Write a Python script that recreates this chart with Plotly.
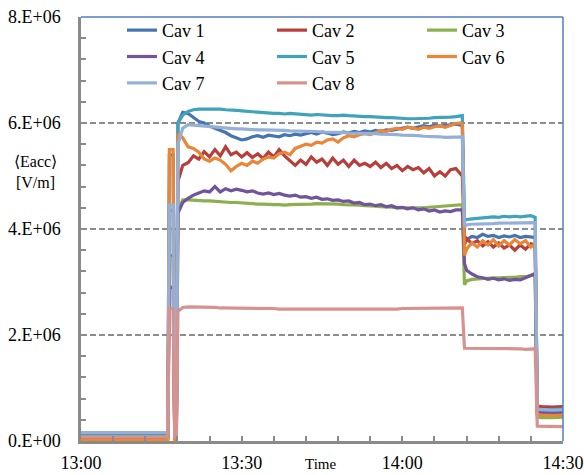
import pandas as pd
import plotly.graph_objects as go

# ---- time samples (minutes after 13:00) ----
t_pre = [0, 8, 16.2]
t_l1 = [16.5, 17.2]
t_trip = [17.5, 17.8]
t_flat = [18.1] + list(range(19, 72)) + [71.2]
t_mid = [71.6] + list(range(72, 85)) + [84.8]
t_low = [85.2, 86, 88, 90]

names = ["Cav 1", "Cav 2", "Cav 3", "Cav 4", "Cav 5", "Cav 6", "Cav 7", "Cav 8"]
colors = ["#4474B2", "#B63F3C", "#8CB04E", "#71549B", "#3FA3BC", "#E98638", "#94B0D8", "#D79290"]

# values in MV/m
base = [0.10, 0.08, 0.05, 0.06, 0.12, 0.02, 0.16, 0.08]
level1 = [5.4, 3.5, 4.0, 2.9, 4.35, 5.5, 4.45, 2.5]

cav1_flat = [6.0,
    6.2, 6.18, 6.1, 6.03, 6.0, 5.94, 5.9, 5.86, 5.82, 5.76,
    5.72, 5.68, 5.7, 5.74, 5.76, 5.73, 5.77, 5.76, 5.74, 5.78,
    5.76, 5.79, 5.77, 5.8, 5.82, 5.79, 5.83, 5.81, 5.78, 5.8,
    5.83, 5.81, 5.84, 5.82, 5.85, 5.83, 5.86, 5.84, 5.87, 5.86,
    5.88, 5.9, 5.92, 5.9, 5.93, 5.95, 5.93, 5.96, 5.94, 5.95,
    5.97, 5.98, 5.96,
    5.95]
cav2_flat = [4.9,
    5.2, 5.25, 5.38, 5.32, 5.46, 5.36, 5.5, 5.38, 5.55, 5.4,
    5.45, 5.36, 5.44, 5.35, 5.42, 5.33, 5.45, 5.36, 5.5, 5.38,
    5.28, 5.2, 5.3, 5.22, 5.36, 5.26, 5.32, 5.2, 5.34, 5.22,
    5.3, 5.18, 5.3, 5.2, 5.24, 5.18, 5.26, 5.16, 5.24, 5.14,
    5.2, 5.1, 5.18, 5.12, 5.16, 5.06, 5.14, 5.0, 5.08, 5.0,
    5.12, 5.14, 5.02,
    5.05]
cav3_flat = [4.35,
    4.55, 4.55, 4.54, 4.54, 4.53, 4.53, 4.52, 4.52, 4.51, 4.5,
    4.5, 4.49, 4.48, 4.48, 4.47, 4.47, 4.46, 4.46, 4.46, 4.45,
    4.46, 4.46, 4.47, 4.47, 4.47, 4.48, 4.48, 4.48, 4.47, 4.47,
    4.46, 4.46, 4.45, 4.45, 4.44, 4.44, 4.43, 4.42, 4.42, 4.41,
    4.4, 4.4, 4.39, 4.39, 4.4, 4.4, 4.41, 4.42, 4.42, 4.43,
    4.44, 4.45, 4.46,
    4.46]
cav4_flat = [4.3,
    4.5, 4.58, 4.64, 4.68, 4.72, 4.7, 4.8, 4.7, 4.76, 4.72,
    4.75, 4.73, 4.7, 4.72, 4.68, 4.66, 4.68, 4.65, 4.67, 4.64,
    4.62, 4.64, 4.6, 4.61, 4.58, 4.6, 4.56, 4.57, 4.54, 4.55,
    4.52, 4.53, 4.49, 4.5, 4.46, 4.47, 4.44, 4.46, 4.42, 4.44,
    4.4, 4.41, 4.38, 4.4, 4.36, 4.38, 4.34, 4.36, 4.32, 4.34,
    4.33, 4.36, 4.37,
    4.36]
cav5_flat = [6.0,
    6.15, 6.22, 6.25, 6.26, 6.26, 6.27, 6.26, 6.26, 6.25, 6.25,
    6.24, 6.23, 6.22, 6.21, 6.2, 6.19, 6.19, 6.18, 6.18, 6.17,
    6.18, 6.17, 6.16, 6.16, 6.15, 6.16, 6.15, 6.15, 6.14, 6.14,
    6.15, 6.14, 6.13, 6.13, 6.12, 6.12, 6.11, 6.11, 6.1, 6.1,
    6.09, 6.09, 6.08, 6.08, 6.08, 6.09, 6.09, 6.1, 6.1, 6.11,
    6.11, 6.12, 6.14,
    6.14]
cav6_flat = [5.8,
    5.72, 5.55, 5.52, 5.45, 5.32, 5.28, 5.34, 5.3, 5.22, 5.1,
    5.18, 5.24, 5.2, 5.28, 5.24, 5.32, 5.36, 5.34, 5.42, 5.45,
    5.4, 5.52, 5.56, 5.6, 5.58, 5.64, 5.62, 5.68, 5.7, 5.64,
    5.72, 5.76, 5.74, 5.78, 5.8, 5.78, 5.82, 5.86, 5.84, 5.88,
    5.9, 5.88, 5.92, 5.9, 5.88, 5.92, 5.9, 5.93, 5.95, 5.92,
    5.96, 5.99, 6.0,
    5.98]
cav7_flat = [5.6,
    5.9, 5.97, 5.96, 5.95, 5.94, 5.93, 5.92, 5.91, 5.9, 5.9,
    5.89, 5.89, 5.88, 5.88, 5.87, 5.87, 5.87, 5.86, 5.86, 5.86,
    5.85, 5.85, 5.85, 5.84, 5.84, 5.84, 5.83, 5.83, 5.83, 5.82,
    5.82, 5.81, 5.81, 5.81, 5.8, 5.8, 5.8, 5.79, 5.79, 5.78,
    5.78, 5.77, 5.77, 5.76, 5.76, 5.75, 5.75, 5.74, 5.74, 5.73,
    5.73, 5.73, 5.74,
    5.74]
cav8_flat = [2.45,
    2.52, 2.53, 2.53, 2.52, 2.52, 2.52, 2.52, 2.51, 2.51, 2.51,
    2.51, 2.5, 2.5, 2.5, 2.5, 2.5, 2.5, 2.5, 2.49, 2.49,
    2.49, 2.49, 2.49, 2.49, 2.48, 2.48, 2.48, 2.48, 2.48, 2.48,
    2.48, 2.49, 2.49, 2.49, 2.49, 2.49, 2.49, 2.49, 2.49, 2.49,
    2.49, 2.5, 2.5, 2.5, 2.5, 2.5, 2.5, 2.5, 2.5, 2.5,
    2.51, 2.51, 2.51,
    2.51]

cav1_mid = [3.75, 3.8, 3.86, 3.84, 3.9, 3.86, 3.88, 3.84, 3.87, 3.85, 3.88, 3.84, 3.86, 3.85, 3.84]
cav2_mid = [3.7, 3.82, 3.72, 3.78, 3.68, 3.76, 3.66, 3.74, 3.64, 3.7, 3.6, 3.7, 3.62, 3.72, 3.7]
cav3_mid = [2.95, 3.02, 3.05, 3.06, 3.07, 3.07, 3.08, 3.08, 3.08, 3.09, 3.09, 3.1, 3.1, 3.12, 3.14]
cav4_mid = [3.35, 3.22, 3.15, 3.1, 3.08, 3.05, 3.07, 3.04, 3.06, 3.03, 3.05, 3.04, 3.08, 3.12, 3.16]
cav5_mid = [4.15, 4.18, 4.19, 4.2, 4.21, 4.22, 4.23, 4.22, 4.24, 4.23, 4.24, 4.23, 4.24, 4.25, 4.22]
cav6_mid = [3.5, 3.62, 3.74, 3.66, 3.78, 3.7, 3.8, 3.68, 3.78, 3.7, 3.8, 3.72, 3.78, 3.66, 3.72]
cav7_mid = [4.05, 4.08, 4.09, 4.09, 4.1, 4.1, 4.1, 4.11, 4.11, 4.11, 4.12, 4.12, 4.12, 4.12, 4.12]
cav8_mid = [1.75, 1.75, 1.75, 1.74, 1.75, 1.74, 1.74, 1.74, 1.75, 1.74, 1.74, 1.74, 1.73, 1.74, 1.74]

cav1_low = [0.56, 0.56, 0.55, 0.56]
cav2_low = [0.66, 0.65, 0.64, 0.65]
cav3_low = [0.45, 0.44, 0.44, 0.45]
cav4_low = [0.53, 0.52, 0.52, 0.53]
cav5_low = [0.60, 0.59, 0.59, 0.60]
cav6_low = [0.50, 0.49, 0.48, 0.49]
cav7_low = [0.60, 0.59, 0.58, 0.59]
cav8_low = [0.28, 0.28, 0.27, 0.27]

flats = [cav1_flat, cav2_flat, cav3_flat, cav4_flat, cav5_flat, cav6_flat, cav7_flat, cav8_flat]
mids = [cav1_mid, cav2_mid, cav3_mid, cav4_mid, cav5_mid, cav6_mid, cav7_mid, cav8_mid]
lows = [cav1_low, cav2_low, cav3_low, cav4_low, cav5_low, cav6_low, cav7_low, cav8_low]

ytick_vals = [0, 2e6, 4e6, 6e6, 8e6]
ytick_text = ["0.E+00", "2.E+06", "4.E+06", "6.E+06", "8.E+06"]
xtick_labels = ["13:00", "13:30", "14:00", "14:30"]

t_all = t_pre + t_l1 + t_trip + t_flat + t_mid + t_low
t0 = pd.Timestamp("2014-01-01 13:00")
x_all = t0 + pd.to_timedelta(t_all, unit="min")

fig = go.Figure()
for i in range(8):
    y = [base[i]] * len(t_pre) + [level1[i]] * len(t_l1) + [base[i]] * len(t_trip) \
        + flats[i] + mids[i] + lows[i]
    assert len(y) == len(t_all), (i, len(y), len(t_all))
    fig.add_trace(go.Scatter(
        x=x_all, y=[v * 1e6 for v in y], mode="lines", name=names[i],
        line=dict(color=colors[i], width=3.2),
    ))

font_family = "Times New Roman, Liberation Serif, serif"
xtick_vals = [t0 + pd.Timedelta(minutes=30 * k) for k in range(4)]

fig.update_layout(
    width=584, height=475,
    margin=dict(l=81, r=21, t=14, b=34),
    paper_bgcolor="white", plot_bgcolor="white",
    font=dict(family=font_family, size=18, color="black"),
    showlegend=True,
    legend=dict(
        orientation="h", x=0.085, y=1.012, xanchor="left", yanchor="top",
        entrywidth=105, entrywidthmode="pixels",
        font=dict(family=font_family, size=18, color="black"),
        bgcolor="rgba(0,0,0,0)", tracegroupgap=0, itemwidth=30,
    ),
    xaxis=dict(
        type="date", automargin=False,
        range=[t0, t0 + pd.Timedelta(minutes=90)],
        tickvals=xtick_vals, ticktext=xtick_labels,
        ticks="inside", ticklen=5, tickwidth=1.5, tickcolor="#8a8a8a",
        minor=dict(ticks="inside", ticklen=5, tickwidth=1.5, tickcolor="#8a8a8a",
                   dtick=6 * 60 * 1000, tick0=t0, showgrid=False),
        showline=True, linecolor="#8a8a8a", linewidth=2.5,
        showgrid=False, zeroline=False,
        ticklabelstandoff=4,
        tickfont=dict(family=font_family, size=18),
    ),
    yaxis=dict(
        range=[0, 8e6], automargin=False,
        tickvals=ytick_vals, ticktext=ytick_text,
        ticks="inside", ticklen=5, tickwidth=1.5, tickcolor="#8a8a8a",
        minor=dict(ticks="inside", ticklen=5, tickwidth=1.5, tickcolor="#8a8a8a",
                   dtick=0.4e6, tick0=0, showgrid=False),
        showline=True, linecolor="#8a8a8a", linewidth=2.5,
        showgrid=True, gridcolor="#8c8c8c", gridwidth=1.5, griddash="6px,3px",
        zeroline=False,
        ticklabelstandoff=14,
        tickfont=dict(family=font_family, size=18),
    ),
    shapes=[
        dict(type="line", xref="paper", yref="paper", x0=0, x1=1, y0=1, y1=1,
             line=dict(color="#4F81BD", width=1.5)),
        dict(type="line", xref="paper", yref="paper", x0=1, x1=1, y0=0, y1=1,
             line=dict(color="#4F81BD", width=1.5)),
    ],
    annotations=[
        dict(text="⟨Eacc⟩<br>[V/m]", xref="paper", yref="paper",
             x=-0.095, y=0.635, xanchor="center", yanchor="middle", showarrow=False,
             font=dict(family=font_family, size=16, color="black")),
        dict(text="Time", xref="paper", yref="paper",
             x=0.496, y=-0.079, xanchor="center", yanchor="bottom", showarrow=False,
             font=dict(family=font_family, size=15, color="black")),
    ],
)

fig.write_html("out.html")
